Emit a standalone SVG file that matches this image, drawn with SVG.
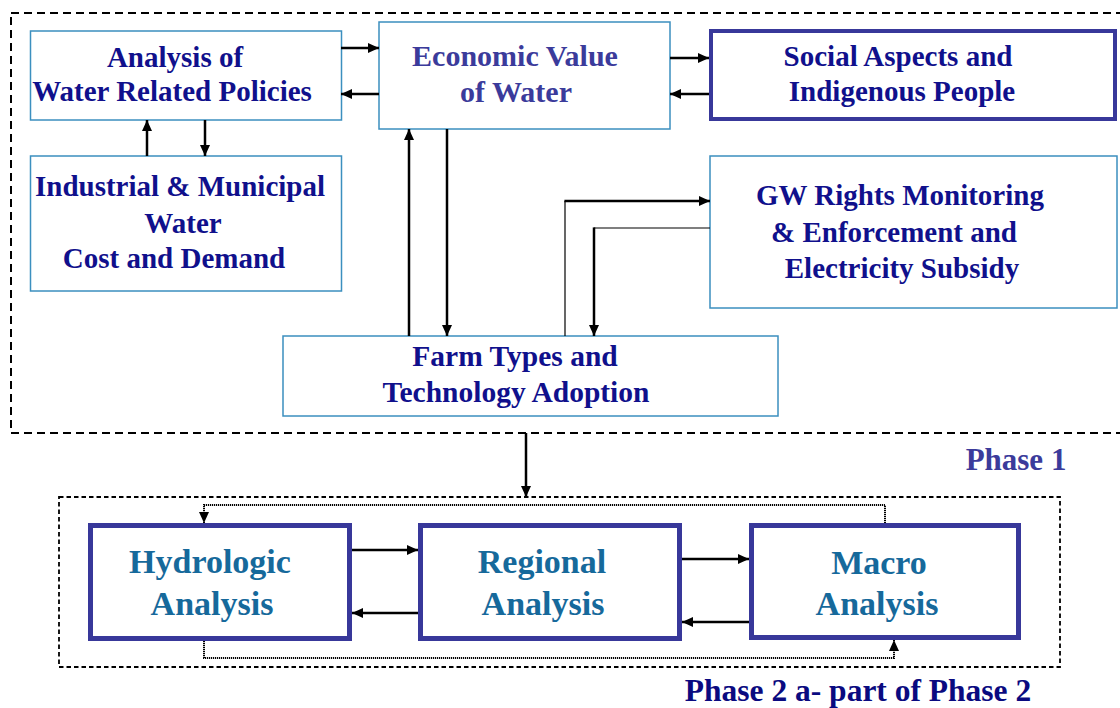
<svg xmlns="http://www.w3.org/2000/svg" width="1120" height="708" viewBox="0 0 1120 708">
<defs>
<marker id="ah" markerUnits="userSpaceOnUse" markerWidth="12" markerHeight="10" refX="11" refY="5" orient="auto">
<path d="M0,0 L11,5 L0,10 z" fill="#000"/>
</marker>
<style>
.thin{fill:#fff;stroke:#3b8fbf;stroke-width:1.5}
.thick{fill:#fff;stroke:#38389a;stroke-width:4}
.big{fill:#fff;stroke:#38389a;stroke-width:5}
.t{font-family:"Liberation Serif","Times New Roman",serif;font-weight:bold;font-size:29px;fill:#10108c;text-anchor:middle}
.tl{fill:#3b3b9b}
.tb{font-size:34px;fill:#16699b}
.c{fill:none;stroke:#000;stroke-width:2.5}
.cn{fill:none;stroke:#000;stroke-width:1.2}
.dot{fill:none;stroke:#000;stroke-width:2;stroke-dasharray:1.2 0.8}
</style>
</defs>
<rect x="11" y="13" width="1120" height="420" fill="none" stroke="#000" stroke-width="2" stroke-dasharray="8 5"/>
<rect x="59" y="497" width="1001" height="170" fill="none" stroke="#000" stroke-width="1.8" stroke-dasharray="4.5 3"/>

<g id="analysis"><rect class="thin" x="30.5" y="31" width="311" height="89"/>
<text class="t" x="175" y="67">Analysis of</text><text class="t" x="172" y="101">Water Related Policies</text></g>
<g id="industrial"><rect class="thin" x="30.5" y="156" width="311" height="135"/>
<text class="t" x="180" y="196">Industrial &amp; Municipal</text><text class="t" x="183" y="233">Water</text><text class="t" x="174" y="268">Cost and Demand</text></g>
<g id="economic"><rect class="thin" x="379" y="22" width="291" height="107"/>
<text class="t tl" x="515" y="66" style="font-size:30px">Economic Value</text><text class="t tl" x="516" y="102" style="font-size:30px">of Water</text></g>
<g id="social"><rect class="thick" x="711" y="31" width="404" height="88"/>
<text class="t" x="898" y="66">Social Aspects and</text><text class="t" x="902" y="101">Indigenous People</text></g>
<g id="gw"><rect class="thin" x="710" y="156" width="407" height="152"/>
<text class="t" x="900" y="205">GW Rights Monitoring</text><text class="t" x="894" y="242">&amp; Enforcement and</text><text class="t" x="902" y="278">Electricity Subsidy</text></g>
<g id="farm"><rect class="thin" x="283" y="336" width="495" height="80"/>
<text class="t" x="515" y="366" style="font-size:29.5px">Farm Types and</text><text class="t" x="516" y="402" style="font-size:29.5px">Technology Adoption</text></g>
<g id="phase1"><text class="t tl" x="1016" y="470" style="font-size:31px">Phase 1</text></g>

<g id="hydrologic"><rect class="big" x="90.5" y="525.5" width="259" height="113"/>
<text class="t tb" x="210" y="573">Hydrologic</text><text class="t tb" x="212" y="615">Analysis</text></g>
<g id="regional"><rect class="big" x="420.5" y="525.5" width="259" height="113"/>
<text class="t tb" x="542" y="573">Regional</text><text class="t tb" x="543" y="615">Analysis</text></g>
<g id="macro"><rect class="big" x="751.5" y="525.5" width="267" height="112"/>
<text class="t tb" x="879" y="574">Macro</text><text class="t tb" x="877" y="615">Analysis</text></g>
<g id="phase2"><text class="t" x="858" y="701" style="font-size:31.5px;fill:#0a0a80">Phase 2 a- part of Phase 2</text></g>

<g id="connectors">
<path class="c" d="M341,48 H379" marker-end="url(#ah)"/>
<path class="c" d="M379,94 H341" marker-end="url(#ah)"/>
<path class="c" d="M147,156 V120" marker-end="url(#ah)"/>
<path class="c" d="M205,120 V156" marker-end="url(#ah)"/>
<path class="c" d="M670,58 H709" marker-end="url(#ah)"/>
<path class="c" d="M709,94 H670" marker-end="url(#ah)"/>
<path class="c" d="M409,336 V129" marker-end="url(#ah)"/>
<path class="c" d="M447,129 V336" marker-end="url(#ah)"/>
<path class="cn" d="M565,336 V201"/>
<path class="c" d="M564.4,201 H710" marker-end="url(#ah)"/>
<path class="cn" d="M710,228 H594"/>
<path class="c" d="M594,227.4 V336" marker-end="url(#ah)"/>
<path class="c" d="M526,433 V497" marker-end="url(#ah)"/>
<path class="c" d="M352,550 H418" marker-end="url(#ah)"/>
<path class="c" d="M418,613 H352" marker-end="url(#ah)"/>
<path class="c" d="M682,559 H749" marker-end="url(#ah)"/>
<path class="c" d="M749,622 H682" marker-end="url(#ah)"/>
<path class="dot" d="M885,523 V505 H204 V523" marker-end="url(#ah)"/>
<path class="dot" d="M204,641 V658 H894 V640" marker-end="url(#ah)"/>
</g>
</svg>
